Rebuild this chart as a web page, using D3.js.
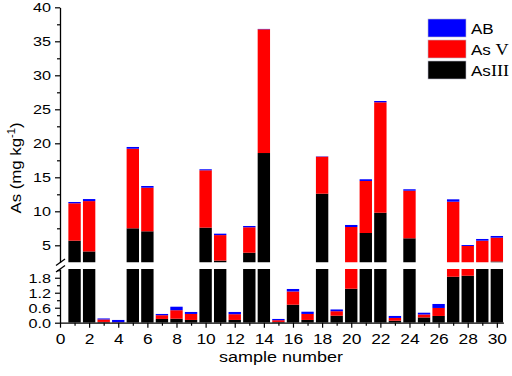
<!DOCTYPE html>
<html>
<head>
<meta charset="utf-8">
<script src="https://cdn.jsdelivr.net/npm/d3@7"></script>
<style>
  body { margin: 0; background: #fff; }
  svg text { font-family: "Liberation Sans", Arial, sans-serif; }
  .serif { font-family: "Liberation Serif", "Times New Roman", serif; }
</style>
</head>
<body>
<svg id="chart" width="512" height="376"></svg>
<script>
// Data (mg/kg)
const samples = d3.range(1, 31);
const asIII = [5.68, 4.1, 0.03, 0.01, 7.5, 7.06, 0.15, 0.16, 0.11, 7.6,
               2.75, 0.11, 3.91, 18.57, 0.03, 0.72, 0.11, 12.59, 0.28, 1.36,
               6.81, 9.79, 0.08, 6.03, 0.21, 0.27, 1.84, 1.88, 2.3, 2.62];
const asV   = [5.5, 7.4, 0.1, 0.01, 11.7, 6.41, 0.15, 0.34, 0.24, 8.43,
               3.75, 0.23, 3.74, 18.2, 0.07, 0.53, 0.24, 5.44, 0.18, 6.33,
               7.65, 16.24, 0.11, 7.0, 0.12, 0.32, 9.57, 3.02, 3.38, 3.5];
const ab    = [0.19, 0.3, 0.04, 0.09, 0.26, 0.25, 0.05, 0.14, 0.08, 0.15,
               0.21, 0.09, 0.19, 0.05, 0.05, 0.1, 0.09, 0.05, 0.07, 0.3,
               0.25, 0.19, 0.08, 0.21, 0.07, 0.16, 0.35, 0.14, 0.25, 0.25];
const seriesNames = ['AsIII', 'AsV', 'AB'];
const seriesColors = { AsIII: '#000000', AsV: '#ff0000', AB: '#0000ff' };
const xTicks = d3.range(0, 31, 2);
const upperTicks = [5, 10, 15, 20, 25, 30, 35, 40];
const lowerTicks = [0, 0.6, 1.2, 1.8];

const svg = d3.select('#chart');
const STRETCH = 1.2; // the reference text is a bit wide

// scales
const x = d3.scaleLinear().domain([0, 30.45]).range([60, 503.4]);
const yUp = d3.scaleLinear().domain([2.5, 40]).range([262.3, 7.3]);
const yLow = d3.scaleLinear().domain([0, 2.15]).range([322.7, 269]);
const barW = x(0.85) - x(0);

// stack data
const rows = samples.map((s, i) => ({ sample: s, AsIII: asIII[i], AsV: asV[i], AB: ab[i] }));
const stacked = d3.stack().keys(seriesNames)(rows);

// clip paths for both panels
const defs = svg.append('defs');
defs.append('clipPath').attr('id', 'clipUp').append('rect')
    .attr('x', 60).attr('y', 0).attr('width', 450).attr('height', yUp(2.5));
defs.append('clipPath').attr('id', 'clipLow').append('rect')
    .attr('x', 60).attr('y', yLow(2.15)).attr('width', 450).attr('height', yLow(0) - yLow(2.15));

function drawPanel(scale, clipId) {
    const g = svg.append('g').attr('clip-path', `url(#${clipId})`);
    const lo = scale.domain()[0], hi = scale.domain()[1];
    g.selectAll('g.layer')
        .data(stacked)
        .join('g')
        .attr('class', 'layer')
        .attr('fill', d => seriesColors[d.key])
        .selectAll('rect')
        .data(d => d.filter(p => p[1] > lo && p[0] < hi))
        .join('rect')
        .attr('x', d => x(d.data.sample) - barW / 2)
        .attr('width', barW)
        .attr('y', d => scale(Math.min(d[1], hi + 1)))
        .attr('height', d => scale(Math.max(d[0], lo - 1)) - scale(Math.min(d[1], hi + 1)));
}
drawPanel(yUp, 'clipUp');
drawPanel(yLow, 'clipLow');

// axes
function styleAxis(g) {
    g.selectAll('path.domain').attr('stroke', '#000').attr('stroke-width', 1.3);
    g.selectAll('.tick line').attr('stroke', '#000').attr('stroke-width', 1.2);
}
function styleYLabels(g) {
    g.selectAll('.tick text')
        .style('font-size', '13.5px').attr('fill', '#000')
        .attr('x', -9 / STRETCH)
        .attr('transform', `scale(${STRETCH},1)`);
}

// upper y axis
const upAxis = svg.append('g').attr('transform', 'translate(60,0)')
    .call(d3.axisLeft(yUp).tickValues(upperTicks).tickSize(5).tickSizeOuter(0).tickPadding(4));
svg.append('g').attr('transform', 'translate(60,0)')
    .call(d3.axisLeft(yUp).tickValues(d3.range(7.5, 40, 5)).tickSize(3).tickSizeOuter(0).tickFormat(''))
    .call(g => g.select('.domain').remove())
    .call(styleAxis);
styleAxis(upAxis);
styleYLabels(upAxis);

// lower y axis
const lowAxis = svg.append('g').attr('transform', 'translate(60,0)')
    .call(d3.axisLeft(yLow).tickValues(lowerTicks).tickSize(5).tickSizeOuter(0).tickPadding(4)
        .tickFormat(d3.format('.1f')));
svg.append('g').attr('transform', 'translate(60,0)')
    .call(d3.axisLeft(yLow).tickValues([0.3, 0.9, 1.5, 2.1]).tickSize(3).tickSizeOuter(0).tickFormat(''))
    .call(g => g.select('.domain').remove())
    .call(styleAxis);
styleAxis(lowAxis);
styleYLabels(lowAxis);

// x axis
const xAxis = svg.append('g').attr('transform', `translate(0,${yLow(0)})`)
    .call(d3.axisBottom(x).tickValues(xTicks).tickSize(5).tickSizeOuter(0).tickPadding(6));
svg.append('g').attr('transform', `translate(0,${yLow(0)})`)
    .call(d3.axisBottom(x).tickValues(d3.range(1, 30, 2)).tickSize(3).tickSizeOuter(0).tickFormat(''))
    .call(g => g.select('.domain').remove())
    .call(styleAxis);
styleAxis(xAxis);
xAxis.selectAll('.tick text')
    .style('font-size', '14.5px').attr('fill', '#000')
    .attr('transform', function () {
        const tx = +d3.select(this.parentNode).attr('transform').match(/translate\(([-\d.]+)/)[1];
        return `scale(${STRETCH},1)`;
    });
// keep x labels centred on their ticks after the stretch
xAxis.selectAll('.tick').each(function () {
    d3.select(this).select('text').attr('x', 0);
});

// break marks
const brk = svg.append('g').attr('stroke', '#000').attr('stroke-width', 1.3);
brk.append('line').attr('x1', 56).attr('y1', 265.5).attr('x2', 65).attr('y2', 259);
brk.append('line').attr('x1', 56).attr('y1', 272).attr('x2', 65).attr('y2', 265.5);

// axis titles
svg.append('text')
    .attr('transform', `translate(281,362) scale(${STRETCH},1)`)
    .attr('text-anchor', 'middle')
    .style('font-size', '15px')
    .text('sample number');

const yTitle = svg.append('text')
    .attr('transform', `translate(21,168) rotate(-90) scale(1.12,1)`)
    .attr('text-anchor', 'middle')
    .style('font-size', '15px');
yTitle.append('tspan').text('As (mg kg');
yTitle.append('tspan').attr('dy', -6).style('font-size', '10px').text('-1');
yTitle.append('tspan').attr('dy', 6).text(')');

// legend
const legendItems = [
    { key: 'AB', label: 'AB', roman: '' },
    { key: 'AsV', label: 'As ', roman: 'V' },
    { key: 'AsIII', label: 'As', roman: 'III' }
];
const legend = svg.append('g').attr('transform', 'translate(428,19)');
legendItems.forEach((d, i) => {
    const row = legend.append('g').attr('transform', `translate(0,${i * 21})`);
    row.append('rect')
        .attr('width', 38).attr('height', 18)
        .attr('fill', seriesColors[d.key])
        .attr('stroke', '#bbbbcc').attr('stroke-width', 0.6);
    const t = row.append('text')
        .attr('transform', `translate(43,15) scale(1.1,1)`)
        .style('font-size', '15.5px');
    t.append('tspan').text(d.label);
    if (d.roman) t.append('tspan').attr('class', 'serif').style('font-size', '16.5px').text(d.roman);
});
</script>
</body>
</html>
